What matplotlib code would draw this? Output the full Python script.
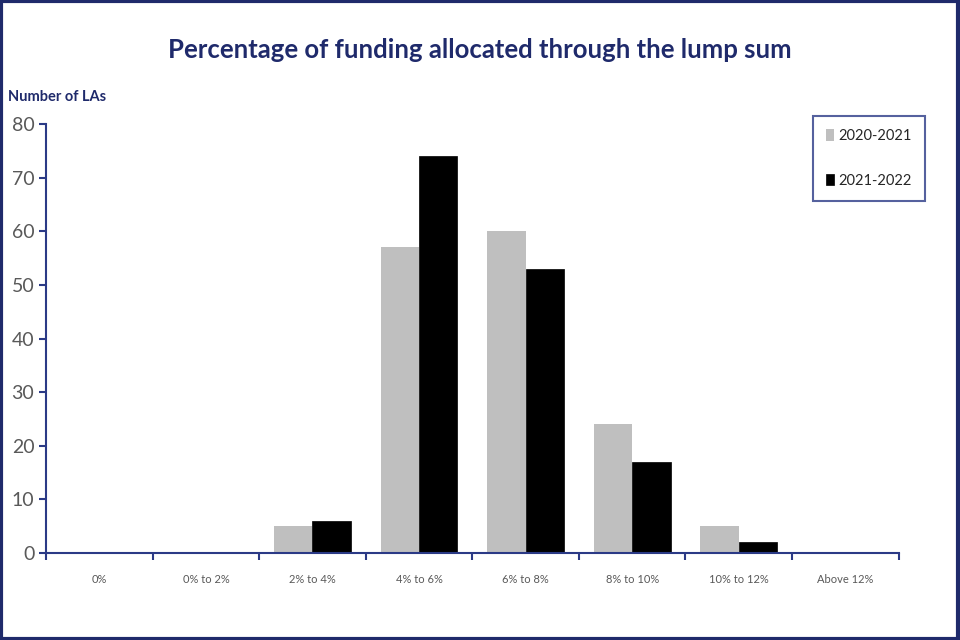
import matplotlib.pyplot as plt
import numpy as np
from matplotlib.patches import Rectangle

categories = ['0%', '0% to 2%', '2% to 4%', '4% to 6%', '6% to 8%', '8% to 10%', '10% to 12%', 'Above 12%']
series_names = ['2020-2021', '2021-2022']
values_2020 = [0, 0, 5, 57, 60, 24, 5, 0]
values_2021 = [0, 0, 6, 74, 53, 17, 2, 0]

navy = '#2B3A86'
title_navy = '#1F2A6B'
grey_text = '#595959'

plt.rcParams['font.family'] = ['Lato', 'DejaVu Sans']

fig = plt.figure(figsize=(9.6, 6.4), dpi=100)
ax = fig.add_axes([0.048, 0.136, 0.888, 0.670])

x = np.arange(len(categories))
w = 0.36
ax.bar(x - w / 2, values_2020, w, color='#BFBFBF', label=series_names[0])
ax.bar(x + w / 2, values_2021, w, color='black', edgecolor='black', linewidth=0.5, label=series_names[1])

ax.set_xlim(-0.5, len(categories) - 0.5)
ax.set_ylim(0, 80)
ax.set_yticks(range(0, 81, 10))
ax.tick_params(axis='y', colors=navy, labelcolor=grey_text, labelsize=14, length=5, width=1.5, direction='out')
ax.set_xticks(x)
ax.set_xticklabels(categories)
ax.set_xticks(np.arange(-0.5, len(categories)), minor=True)
ax.tick_params(axis='x', which='major', length=0, labelcolor=grey_text, labelsize=8, pad=15)
ax.tick_params(axis='x', which='minor', colors=navy, length=5, width=1.5, direction='out')

for side in ['top', 'right']:
    ax.spines[side].set_visible(False)
for side in ['left', 'bottom']:
    ax.spines[side].set_color(navy)
    ax.spines[side].set_linewidth(1.5)

# legend box sits partly above / right of the plot area
leg = ax.legend(loc='upper right', bbox_to_anchor=(1.031, 1.019), borderaxespad=0, fontsize=10.5,
                frameon=True, fancybox=False, handlelength=0.55, handleheight=0.8, handletextpad=0.3,
                labelspacing=2.1, borderpad=0.9, labelcolor='#262626')
leg.get_frame().set_edgecolor(navy)
leg.get_frame().set_linewidth(1.5)

fig.text(0.5, 0.922, 'Percentage of funding allocated through the lump sum', ha='center', va='center',
         fontsize=18.5, fontweight='bold', color=title_navy)
fig.text(0.008, 0.848, 'Number of LAs', ha='left', va='center', fontsize=10.5, fontweight='bold', color=title_navy)

fig.patches.append(Rectangle((0.001, 0.002), 0.997, 0.996, transform=fig.transFigure, fill=False,
                             edgecolor=title_navy, linewidth=3))

fig.savefig('out.png', dpi=100)
